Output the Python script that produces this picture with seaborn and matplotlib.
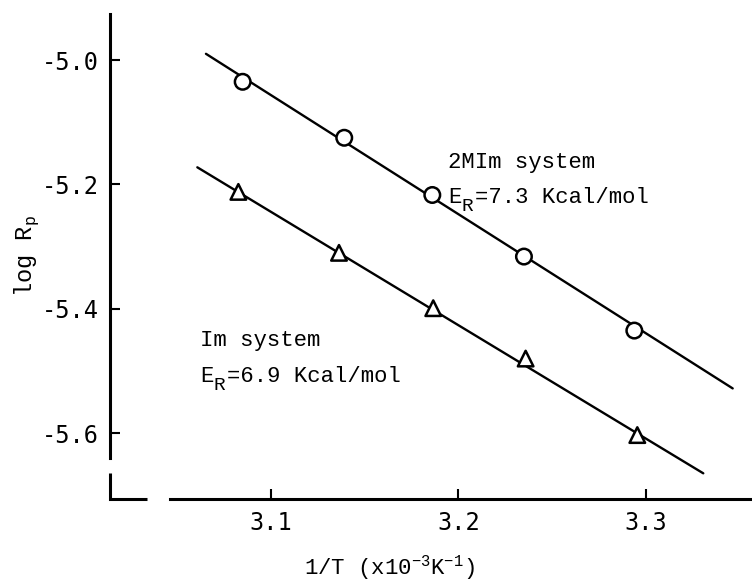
import matplotlib
matplotlib.use("Agg")
import matplotlib.pyplot as plt
import matplotlib.transforms as mtransforms
import seaborn as sns
import pandas as pd

# ---- data ----
x_2mim = [3.0849, 3.1391, 3.1861, 3.2350, 3.2939]
y_2mim = [-5.035, -5.125, -5.217, -5.316, -5.435]
x_im = [3.0826, 3.1363, 3.1866, 3.2359, 3.2955]
y_im = [-5.212, -5.310, -5.399, -5.480, -5.603]
# fitted straight lines (end points)
fit_x_2mim = [3.0653, 3.3464]
fit_y_2mim = [-4.990, -5.528]
fit_x_im = [3.0607, 3.3307]
fit_y_im = [-5.1725, -5.6645]

x_ticks = [3.1, 3.2, 3.3]
x_tick_labels = ["3.1", "3.2", "3.3"]
y_ticks = [-5.0, -5.2, -5.4, -5.6]
y_tick_labels = ["-5.0", "-5.2", "-5.4", "-5.6"]

sns.set_theme(style="ticks")
plt.rcParams["font.family"] = ["DejaVu Sans Mono", "DejaVu Sans"]

fig = plt.figure(figsize=(7.52, 5.82), dpi=100)
ax = fig.add_axes([110 / 752, 83 / 582, 642 / 752, 485 / 582])

df_pts = pd.DataFrame({
    "x": x_2mim + x_im,
    "y": y_2mim + y_im,
    "s": ["2MIm"] * len(x_2mim) + ["Im"] * len(x_im),
})
df_fit = pd.DataFrame({
    "x": fit_x_2mim + fit_x_im,
    "y": fit_y_2mim + fit_y_im,
    "s": ["2MIm"] * 2 + ["Im"] * 2,
})

sns.lineplot(data=df_fit, x="x", y="y", units="s", estimator=None,
             color="black", linewidth=1.7, ax=ax, legend=False, sort=False)
sns.scatterplot(data=df_pts, x="x", y="y", style="s",
                markers={"2MIm": "o", "Im": "^"}, s=125,
                facecolor="white", edgecolor="black", linewidth=1.8,
                ax=ax, legend=False, zorder=3)

ax.set_xlim(3.0141, 3.3567)
ax.set_ylim(-5.7058, -4.926)

ax.set_xticks(x_ticks)
ax.set_xticklabels(x_tick_labels)
ax.set_yticks(y_ticks)
ax.set_yticklabels(y_tick_labels)
ax.tick_params(axis="both", direction="in", colors="black", labelsize=17,
               width=1.5, length=7)
ax.tick_params(axis="x", pad=9)
ax.tick_params(axis="y", pad=8)

for side in ["top", "right"]:
    ax.spines[side].set_visible(False)
for side in ["left", "bottom"]:
    ax.spines[side].set_color("black")
    ax.spines[side].set_linewidth(2.2)
ax.spines["left"].set_bounds(-5.640, -4.926)
ax.spines["bottom"].set_bounds(3.046, 3.3567)

# small corner piece of the broken axes
ax.plot([0, 0, 0.0576], [0.0536, 0, 0], transform=ax.transAxes,
        color="black", linewidth=2.2, clip_on=False, solid_capstyle="butt",
        solid_joinstyle="miter")

mono = "Liberation Mono"
ax.set_xlabel(r"1/T (x10$^{\mathregular{-3}}$K$^{\mathregular{-1}}$)",
              family=mono, fontsize=16, color="black")
ax.xaxis.set_label_coords(0.436, -0.112)
ax.set_ylabel(r"log R$_{\mathregular{p}}$", family=mono,
              fontsize=17, color="black")
ax.yaxis.set_label_coords(-0.107, 0.50)

FS = 16


def label(xp, yp, head, sub, tail):
    """monospace label: head, lowered subscript, tail (pixel position)."""
    base = fig.transFigure
    xf, yf = xp / 752, 1 - yp / 582
    char = 0.6 * FS  # advance of one monospace char, points
    fig.text(xf, yf, head, transform=base, family=mono, fontsize=FS,
             color="black", va="baseline")
    if sub:
        t1 = mtransforms.offset_copy(base, fig=fig, x=char * len(head),
                                     y=-5.5, units="points")
        fig.text(xf, yf, sub, transform=t1, family=mono, fontsize=FS - 2,
                 color="black", va="baseline")
        t2 = mtransforms.offset_copy(base, fig=fig,
                                     x=char * (len(head) + len(sub)),
                                     y=0, units="points")
        fig.text(xf, yf, tail, transform=t2, family=mono, fontsize=FS,
                 color="black", va="baseline")


label(448, 168, "2MIm system", "", "")
label(448, 203, "E", "R", "=7.3 Kcal/mol")
label(200, 346, "Im system", "", "")
label(200, 382, "E", "R", "=6.9 Kcal/mol")

fig.savefig("out.png", dpi=100, facecolor="white")
